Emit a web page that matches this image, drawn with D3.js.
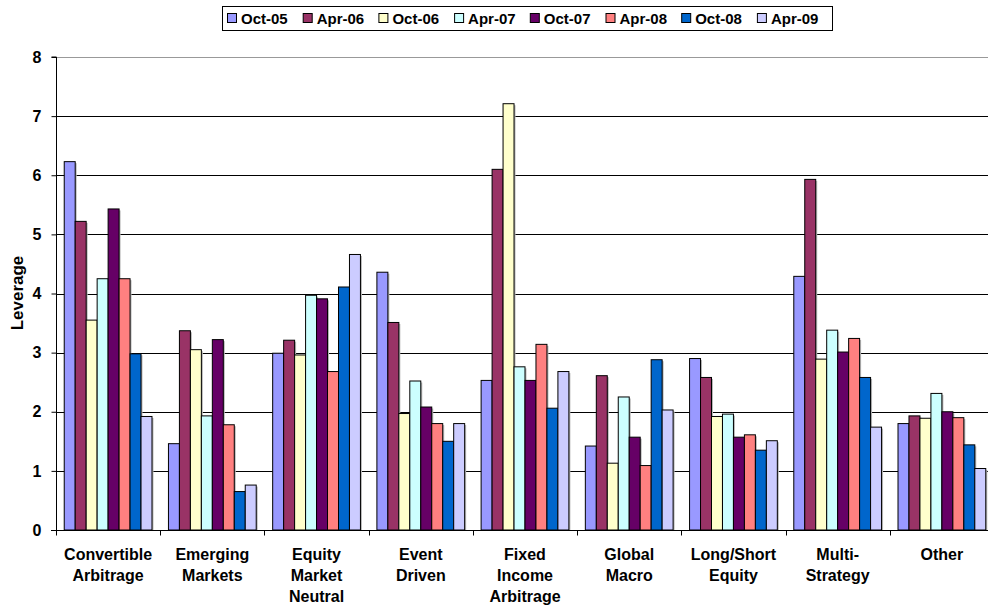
<!DOCTYPE html>
<html lang="en">
<head>
<meta charset="UTF-8">
<title>Leverage by strategy</title>
<script src="https://d3js.org/d3.v7.min.js"></script>
<style>
    body { margin: 0; background: #fff; }
    svg { display: block; font-family: "Liberation Sans", Arial, sans-serif; }
    .tick text { font-weight: bold; }
</style>
</head>
<body>
<svg width="988" height="606"></svg>
<script>
    const categories = [
        ["Convertible", "Arbitrage"], ["Emerging", "Markets"], ["Equity", "Market", "Neutral"],
        ["Event", "Driven"], ["Fixed", "Income", "Arbitrage"], ["Global", "Macro"],
        ["Long/Short", "Equity"], ["Multi-", "Strategy"], ["Other"]
    ];
    const seriesNames = ["Oct-05", "Apr-06", "Oct-06", "Apr-07", "Oct-07", "Apr-08", "Oct-08", "Apr-09"];
    const seriesColors = ["#9999FF", "#993366", "#FFFFCC", "#CCFFFF", "#660066", "#FF8080", "#0066CC", "#CCCCFF"];

    // one array per series, one value per category
    const oct05 = [6.23, 1.46, 2.99, 4.36, 2.53, 1.42, 2.90, 4.29, 1.80];
    const apr06 = [5.22, 3.37, 3.21, 3.51, 6.10, 2.61, 2.58, 5.93, 1.93];
    const oct06 = [3.55, 3.05, 2.96, 1.97, 7.21, 1.13, 1.92, 2.89, 1.89];
    const apr07 = [4.25, 1.93, 3.97, 2.52, 2.76, 2.25, 1.96, 3.38, 2.31];
    const oct07 = [5.43, 3.22, 3.91, 2.08, 2.53, 1.57, 1.57, 3.01, 2.00];
    const apr08 = [4.25, 1.78, 2.68, 1.80, 3.14, 1.09, 1.61, 3.24, 1.90];
    const oct08 = [2.98, 0.65, 4.11, 1.50, 2.06, 2.88, 1.35, 2.58, 1.44];
    const apr09 = [1.92, 0.76, 4.66, 1.80, 2.68, 2.03, 1.51, 1.74, 1.04];
    const seriesValues = [oct05, apr06, oct06, apr07, oct07, apr08, oct08, apr09];

    const yTicks = [0, 1, 2, 3, 4, 5, 6, 7, 8];

    const svg = d3.select("svg");
    const plotLeft = 56, plotRight = 994, plotTop = 57, plotBottom = 530;

    const x0 = d3.scaleBand()
        .domain(d3.range(categories.length))
        .range([plotLeft, plotRight])
        .paddingInner(0).paddingOuter(0);

    // Excel gap width 150% -> bars fill 8/9.5 of each band
    const bw = x0.bandwidth() / 9.5;
    const x1 = d3.scaleBand()
        .domain(d3.range(seriesNames.length))
        .range([bw * 0.75, bw * 8.75]);

    const y = d3.scaleLinear().domain([0, 8]).range([plotBottom, plotTop]);

    // plot area top border
    svg.append("line")
        .attr("x1", plotLeft).attr("x2", plotRight)
        .attr("y1", plotTop + 0.5).attr("y2", plotTop + 0.5)
        .attr("stroke", "#999").attr("stroke-width", 1);

    // gridlines
    svg.append("g")
        .selectAll("line")
        .data(yTicks.filter(d => d > 0 && d < 8))
        .join("line")
        .attr("x1", plotLeft).attr("x2", plotRight)
        .attr("y1", d => Math.round(y(d)) + 0.5)
        .attr("y2", d => Math.round(y(d)) + 0.5)
        .attr("stroke", "#000");

    // bars
    const groups = svg.append("g")
        .selectAll("g")
        .data(categories.map((c, i) => i))
        .join("g")
        .attr("transform", i => `translate(${x0(i)},0)`);

    const barData = i => seriesValues.map((vals, s) => ({ s: s, v: vals[i] }));

    groups.selectAll("rect.shadow")
        .data(barData)
        .join("rect")
        .attr("class", "shadow")
        .attr("x", d => x1(d.s) + 1.5)
        .attr("y", d => y(d.v) + 1.5)
        .attr("width", x1.bandwidth())
        .attr("height", d => plotBottom - y(d.v) - 1.5)
        .attr("fill", "#b8b8b8");

    groups.selectAll("rect.bar")
        .data(barData)
        .join("rect")
        .attr("class", "bar")
        .attr("x", d => x1(d.s))
        .attr("y", d => y(d.v))
        .attr("width", x1.bandwidth())
        .attr("height", d => plotBottom - y(d.v))
        .attr("fill", d => seriesColors[d.s])
        .attr("stroke", "#000")
        .attr("stroke-width", 1);

    // y axis
    const yAxis = svg.append("g")
        .attr("transform", `translate(${plotLeft + 0.5},0)`)
        .call(d3.axisLeft(y).tickValues(yTicks).tickSize(5).tickPadding(10).tickFormat(d3.format("d")));
    yAxis.selectAll("line, path").attr("stroke", "#000");
    yAxis.select(".domain").attr("d", `M-5,${plotTop}H0V${plotBottom}`);
    yAxis.selectAll("text").attr("font-size", 16).attr("fill", "#000")
        .attr("font-family", "'Liberation Sans', Arial, sans-serif");

    // x axis with ticks between categories
    const xAxis = svg.append("g").attr("transform", `translate(0,${plotBottom + 0.5})`);
    xAxis.append("line").attr("x1", plotLeft - 5).attr("x2", plotRight).attr("stroke", "#000");
    xAxis.selectAll("line.tk")
        .data(d3.range(categories.length + 1))
        .join("line")
        .attr("class", "tk")
        .attr("x1", i => Math.round(plotLeft + i * x0.bandwidth()) + 0.5)
        .attr("x2", i => Math.round(plotLeft + i * x0.bandwidth()) + 0.5)
        .attr("y1", 0).attr("y2", 5)
        .attr("stroke", "#000");

    const labels = svg.append("g")
        .selectAll("text")
        .data(categories)
        .join("text")
        .attr("x", (d, i) => x0(i) + x0.bandwidth() / 2)
        .attr("y", 560)
        .attr("text-anchor", "middle")
        .attr("font-size", 16)
        .attr("font-weight", "bold");
    labels.selectAll("tspan")
        .data(d => d)
        .join("tspan")
        .attr("x", function () { return this.parentNode.getAttribute("x"); })
        .attr("dy", (d, i) => i === 0 ? 0 : 21)
        .text(d => d);

    // y axis title
    svg.append("text")
        .attr("transform", "translate(23,293) rotate(-90)")
        .attr("text-anchor", "middle")
        .attr("font-size", 17)
        .attr("font-weight", "bold")
        .text("Leverage");

    // legend
    const legend = svg.append("g");
    legend.append("rect")
        .attr("x", 222.5).attr("y", 6.5)
        .attr("width", 610).attr("height", 24)
        .attr("fill", "#fff").attr("stroke", "#000");
    const items = legend.selectAll("g")
        .data(seriesNames)
        .join("g")
        .attr("transform", (d, i) => `translate(${227 + i * 75.7},0)`);
    items.append("rect")
        .attr("x", 0.5).attr("y", 13.5)
        .attr("width", 9).attr("height", 9)
        .attr("fill", (d, i) => seriesColors[i])
        .attr("stroke", "#000");
    items.append("text")
        .attr("x", 14).attr("y", 24)
        .attr("font-size", 15)
        .attr("font-weight", "bold")
        .text(d => d);
</script>
</body>
</html>
